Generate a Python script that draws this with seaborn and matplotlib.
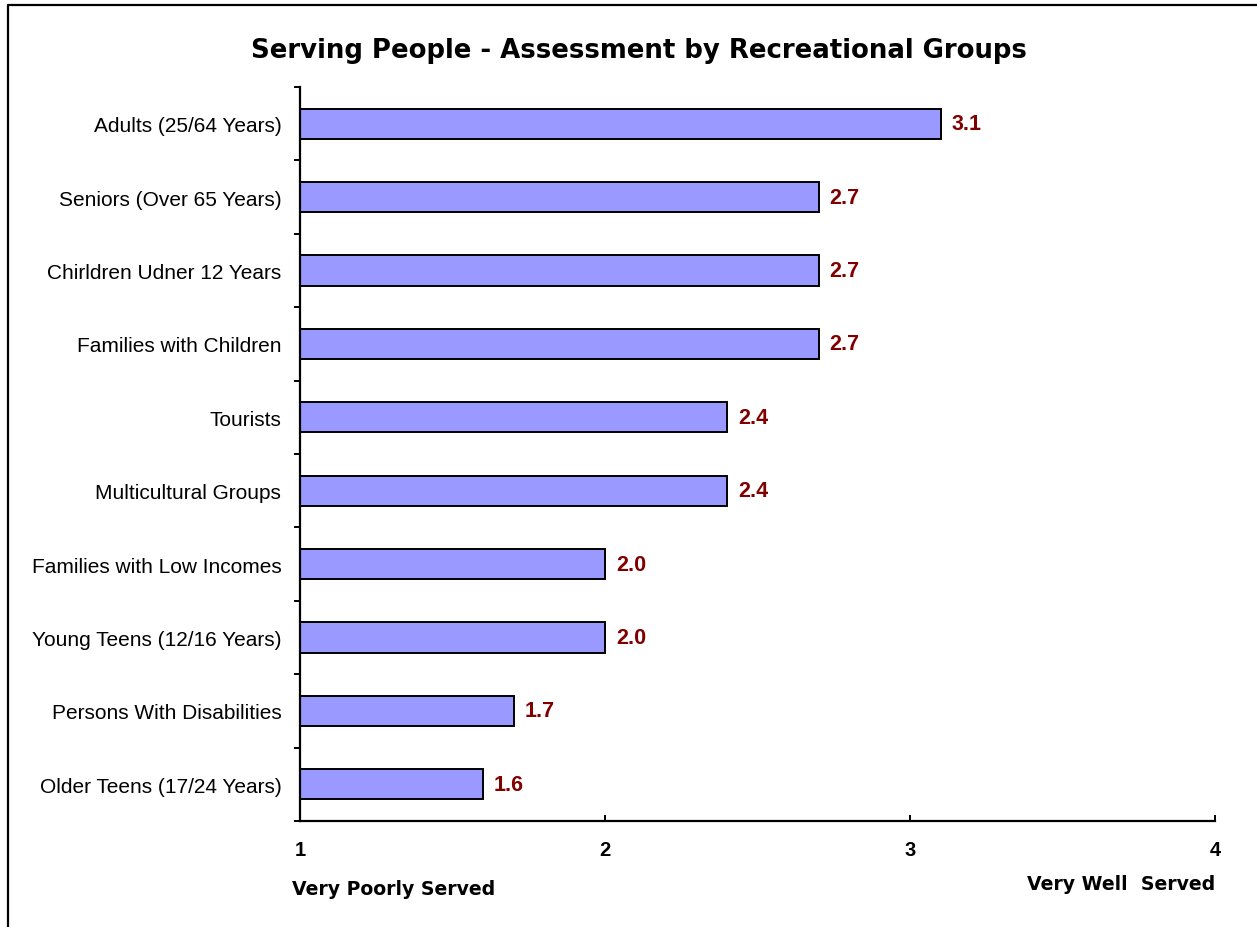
import numpy as np
import pandas as pd
import matplotlib.pyplot as plt
from matplotlib.lines import Line2D
import seaborn as sns

groups = ['Adults (25/64 Years)', 'Seniors (Over 65 Years)', 'Chirldren Udner 12 Years',
          'Families with Children', 'Tourists', 'Multicultural Groups',
          'Families with Low Incomes', 'Young Teens (12/16 Years)',
          'Persons With Disabilities', 'Older Teens (17/24 Years)']
scores = [3.1, 2.7, 2.7, 2.7, 2.4, 2.4, 2.0, 2.0, 1.7, 1.6]
x_ticks = [1, 2, 3, 4]

df = pd.DataFrame({'group': groups, 'score': scores})

sns.set_style('white')
plt.rcParams['font.family'] = ['Liberation Sans', 'DejaVu Sans']
plt.rcParams['text.color'] = 'black'
plt.rcParams['xtick.color'] = 'black'
plt.rcParams['ytick.color'] = 'black'

fig = plt.figure(figsize=(12.57, 9.28), dpi=100)
ax = fig.add_axes([300/1257, 1-822/928, 915/1257, 734/928])

sns.barplot(data=df, x='score', y='group', orient='h', color='#9999FF',
            saturation=1, width=0.41, edgecolor='black', linewidth=1.4, ax=ax)

# value labels at the end of each bar
labels = [f'{v:.1f}' for v in scores]
ax.bar_label(ax.containers[0], labels=labels, padding=8, color='#800000',
             fontsize=15.5, fontweight='bold', family='Liberation Sans')

ax.set_xlim(1, 4)
ax.set_ylim(9.5, -0.5)
ax.set_xticks(x_ticks)
ax.set_xticklabels([str(t) for t in x_ticks], fontsize=14.5, fontweight='bold',
                   family='Liberation Sans')
ax.set_yticks(np.arange(len(groups)))
ax.set_yticklabels(groups, fontsize=15)
ax.set_yticks(np.arange(-0.5, len(groups), 1), minor=True)
ax.tick_params(axis='y', which='major', length=0, pad=13.5)
ax.tick_params(axis='y', which='minor', length=4.5, width=1.4, direction='out', left=True)
ax.tick_params(axis='x', which='major', length=4, width=1.4, direction='in', pad=14, bottom=True)
ax.set_xlabel('')
ax.set_ylabel('')
sns.despine(ax=ax)
for s in ['left', 'bottom']:
    ax.spines[s].set_linewidth(1.6)
    ax.spines[s].set_color('black')

fig.text(0.508, 1-58/928, 'Serving People - Assessment by Recreational Groups',
         ha='center', va='baseline', fontsize=18.7, fontweight='bold', family='DejaVu Sans')
fig.text(292/1257, 1-895/928, 'Very Poorly Served', ha='left', va='baseline',
         fontsize=13.6, fontweight='bold', family='DejaVu Sans')
fig.text(1215/1257, 1-890/928, 'Very Well  Served', ha='right', va='baseline',
         fontsize=13.6, fontweight='bold', family='DejaVu Sans')

# outer frame (top and left edges only visible)
x0, y0 = 7.5/1257, 1-5.5/928
fig.add_artist(Line2D([x0, x0, 1], [0, y0, y0], transform=fig.transFigure,
                      color='black', linewidth=1.6))

fig.savefig('out.png', dpi=100)
